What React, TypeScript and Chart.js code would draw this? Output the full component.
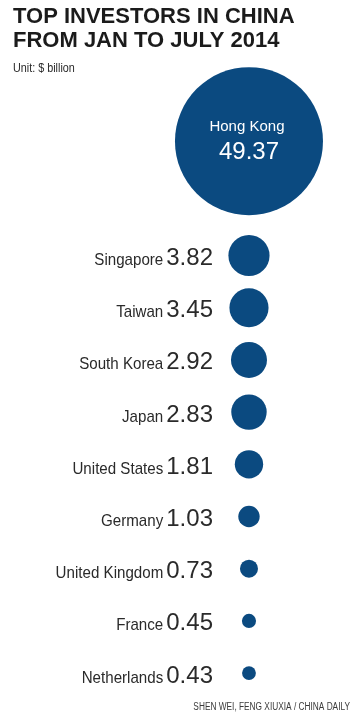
import React, { useEffect, useRef } from "react";
import { Chart, registerables } from "chart.js";

Chart.register(...registerables);

const countries = [
  "Hong Kong",
  "Singapore",
  "Taiwan",
  "South Korea",
  "Japan",
  "United States",
  "Germany",
  "United Kingdom",
  "France",
  "Netherlands",
];
const investments = [49.37, 3.82, 3.45, 2.92, 2.83, 1.81, 1.03, 0.73, 0.45, 0.43];
const titleLines = ["TOP INVESTORS IN CHINA", "FROM JAN TO JULY 2014"];
const unitLabel = "Unit: $ billion";
const creditLabel = "SHEN WEI, FENG XIUXIA / CHINA DAILY";

const BLUE = "#0b4a80";
const TEXT = "#2a2a2a";
const R_SCALE = 74 / Math.sqrt(49.37);
const HEAD_ROW = -2.19;
const FONT = "'Liberation Sans', Arial, sans-serif";

function condensedText(ctx: any, text: string, x: number, y: number, sx: number) {
  ctx.save();
  ctx.translate(x, y);
  ctx.scale(sx, 1);
  ctx.fillText(text, 0, 0);
  ctx.restore();
}

const labelPlugin = {
  id: "bubbleLabels",
  afterDatasetsDraw(chart: any) {
    const ctx = chart.ctx;
    const meta = chart.getDatasetMeta(0);
    ctx.save();
    // title
    ctx.fillStyle = "#1b1b1b";
    ctx.textAlign = "left";
    ctx.textBaseline = "alphabetic";
    ctx.font = "bold 22px " + FONT;
    ctx.fillText(titleLines[0], 13, 23);
    ctx.fillText(titleLines[1], 13, 46.5);
    ctx.fillStyle = TEXT;
    ctx.font = "12px " + FONT;
    condensedText(ctx, unitLabel, 13, 72, 0.9);

    meta.data.forEach((el: any, i: number) => {
      const name = countries[i];
      const val = investments[i].toFixed(2);
      if (i === 0) {
        ctx.fillStyle = "#ffffff";
        ctx.textAlign = "center";
        ctx.font = "15px " + FONT;
        ctx.fillText(name, el.x - 2, el.y - 10);
        ctx.font = "24px " + FONT;
        ctx.fillText(val, el.x, el.y + 18);
      } else {
        ctx.fillStyle = TEXT;
        ctx.textAlign = "right";
        const numRight = el.x - 36;
        const base = el.y + 9.5;
        ctx.font = "24px " + FONT;
        ctx.fillText(val, numRight, base);
        const w = ctx.measureText(val).width;
        ctx.font = "17px " + FONT;
        condensedText(ctx, name, numRight - w - 3, base, 0.89);
      }
    });

    ctx.fillStyle = "#3a3a3a";
    ctx.textAlign = "right";
    ctx.font = "10px " + FONT;
    condensedText(ctx, creditLabel, 350, 710, 0.83);
    ctx.restore();
  },
};

export default function App() {
  const ref = useRef<HTMLCanvasElement>(null);
  useEffect(() => {
    if (!ref.current) return;
    const data = investments.map((v, i) => ({
      x: 0,
      y: i === 0 ? HEAD_ROW : i - 1,
      r: R_SCALE * Math.sqrt(v),
    }));
    const chart = new Chart(ref.current, {
      type: "bubble",
      data: {
        labels: countries,
        datasets: [
          {
            data,
            backgroundColor: BLUE,
            borderWidth: 0,
            hoverBorderWidth: 0,
            clip: false,
          } as any,
        ],
      },
      options: {
        animation: false,
        responsive: false,
        events: [],
        layout: { padding: 0, autoPadding: false },
        plugins: {
          legend: { display: false },
          tooltip: { enabled: false },
          title: { display: false },
        },
        scales: {
          x: { type: "linear", display: false, min: -3.42, max: 1.58 },
          y: {
            type: "linear",
            display: false,
            reverse: true,
            min: -4.895,
            max: 8.994,
          },
        },
      },
      plugins: [labelPlugin],
    });
    return () => chart.destroy();
  }, []);
  return (
    <div style={{ position: "absolute", left: 0, top: 0, width: 364, height: 725, background: "#fff" }}>
      <canvas ref={ref} width={364} height={725} style={{ display: "block" }} />
    </div>
  );
}
